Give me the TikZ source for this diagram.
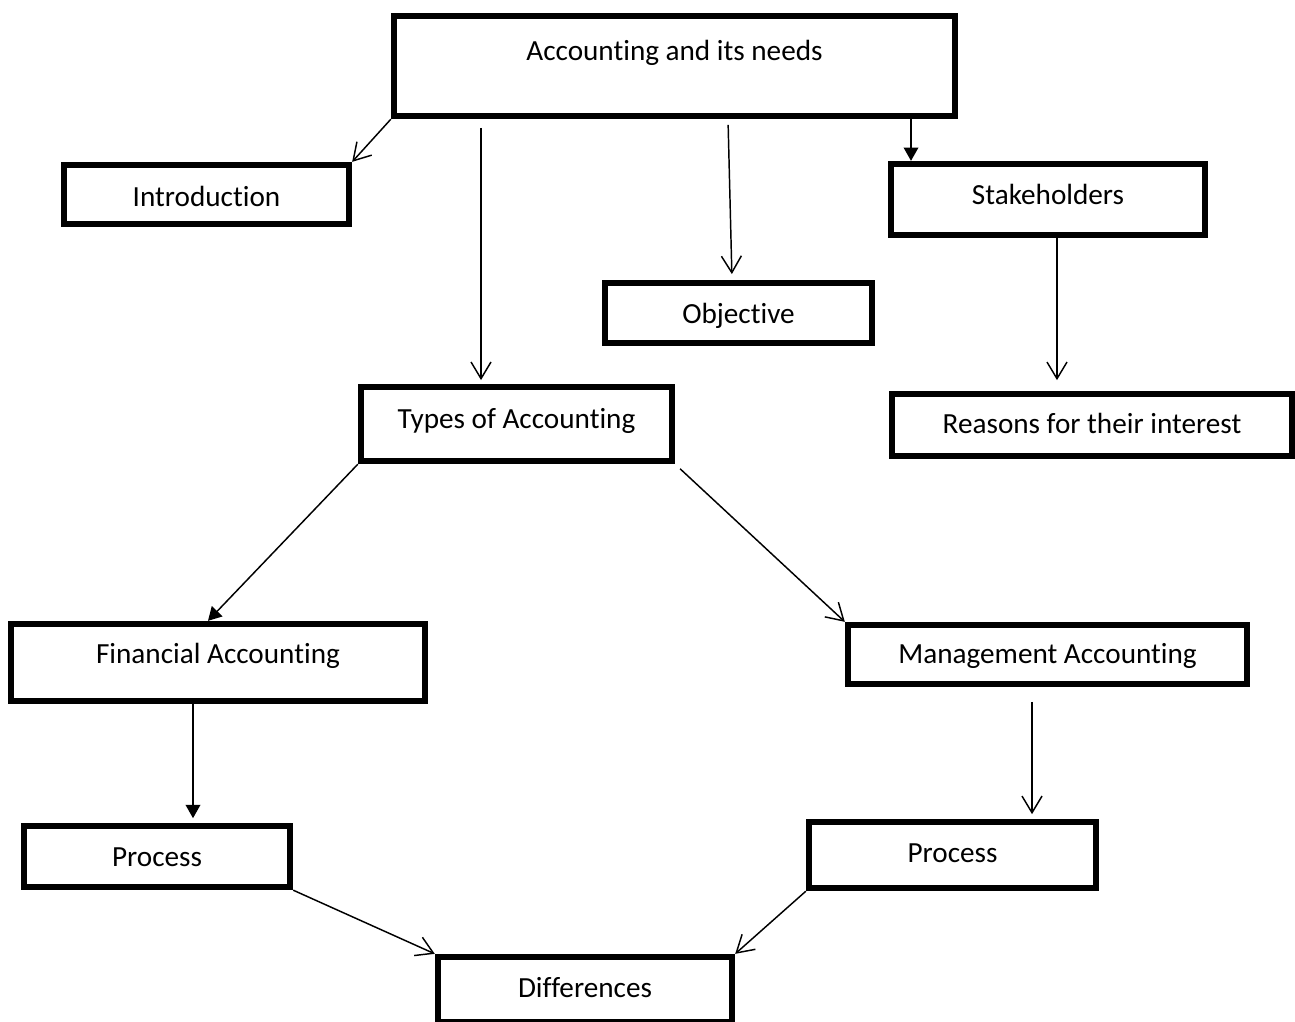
\documentclass[tikz,border=0pt]{standalone}
\usepackage{fontspec}
\setmainfont{Carlito}[Ligatures=NoCommon]
\usetikzlibrary{arrows.meta}

\begin{document}
\begin{tikzpicture}[x=0.75pt, y=-0.75pt,
  box/.style={draw, rectangle, line width=4.4pt, inner sep=0pt,
    text height=25pt, font=\fontsize{21.9pt}{26pt}\selectfont},
  link/.style={line width=1.1pt},
  open/.style={link, -{Straight Barb[length=12.5pt, width=15pt, line width=1.1pt]}},
  solid tip/.style={link, -{Triangle[length=10pt, width=11pt]}}]

\useasboundingbox (0,0) rectangle (1295,1021);

% boxes
\node[box, minimum width=421.1pt, minimum height=75.4pt, text depth=34pt]
  (top) at (674.5,66) {Accounting and its needs};
\node[box, minimum width=214.1pt, minimum height=44.6pt, text depth=7.75pt]
  (intro) at (206.5,194.5) {Introduction};
\node[box, minimum width=235.9pt, minimum height=53.6pt, text depth=18.25pt]
  (stake) at (1048,199.5) {Stakeholders};
\node[box, minimum width=200.6pt, minimum height=45.4pt, text depth=10pt]
  (obj) at (738.5,313) {Objective};
\node[box, minimum width=300.4pt, minimum height=46.9pt, text depth=13pt]
  (reasons) at (1092,425) {Reasons for their interest};
\node[box, minimum width=233.6pt, minimum height=55.9pt, text depth=19pt]
  (types) at (516.5,424) {Types of Accounting};
\node[box, minimum width=310.9pt, minimum height=58.1pt, text depth=24.25pt]
  (fin) at (218,662.5) {Financial Accounting};
\node[box, minimum width=299.6pt, minimum height=44.6pt, text depth=12.25pt]
  (mgmt) at (1047.5,654.5) {Management Accounting};
\node[box, minimum width=199.9pt, minimum height=46.1pt, text depth=10.75pt]
  (procL) at (157,856.5) {Process};
\node[box, minimum width=215.6pt, minimum height=49.9pt, text depth=14.5pt]
  (procR) at (952.5,855) {Process};
\node[box, minimum width=220.9pt, minimum height=49.1pt, text depth=13.75pt]
  (diff) at (585,989.5) {Differences};

% connectors
\draw[open] (top.south west) -- (intro.north east);
\draw[open, shorten <=6.5pt, shorten >=2.8pt] (top.south -| 481,0) -- (types.north -| 481,0);
\draw[open, shorten <=4.3pt, shorten >=4.3pt] (top.south -| 728,0) -- (obj.north -| 732,0);
\draw[solid tip] (top.south -| 911,0) -- (stake.north -| 911,0);
\draw[open, shorten >=8pt] (stake.south -| 1057,0) -- (reasons.north -| 1057,0);
\draw[solid tip] (types.south west) -- (fin.north -| 208,0);
\draw[open, shorten <=5pt] (types.south east) -- (mgmt.north west);
\draw[solid tip, shorten >=3.5pt] (fin.south -| 193,0) -- (procL.north -| 193,0);
\draw[open, shorten <=11pt, shorten >=3.5pt] (mgmt.south -| 1032,0) -- (procR.north -| 1032,0);
\draw[open] (procL.south east) -- (diff.north west);
\draw[open] (procR.south west) -- (diff.north east);
\end{tikzpicture}
\end{document}
